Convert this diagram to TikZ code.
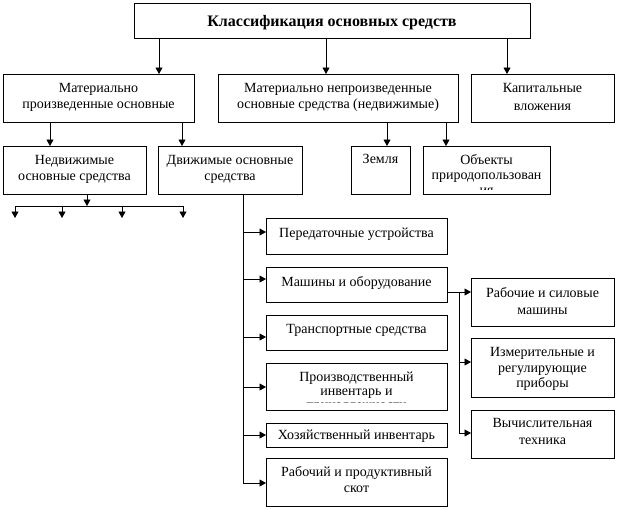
\documentclass[tikz,border=0pt]{standalone}
\usepackage{fontspec}
\setmainfont{Liberation Serif}
\usetikzlibrary{arrows.meta}
\begin{document}
\begin{tikzpicture}[x=1pt,y=-1pt,
  box/.style={draw, line width=0.9pt, inner sep=0pt, outer sep=0pt},
  txt/.style={inner sep=0pt, align=center, anchor=base, font=\fontsize{14}{16}\selectfont},
  arr/.style={line width=0.9pt, -{Triangle[length=6.5pt,width=7pt]}},
  ln/.style={line width=0.9pt}]
\useasboundingbox (0,0) rectangle (618,509);
\newcommand\bx[5]{\node[box,minimum width=#4pt,minimum height=#5pt] (#1) at (#2,#3) {};}
% boxes
\bx{title}{332}{20.5}{396}{35}
\bx{mp}{98.5}{98}{191}{48}
\bx{mnp}{338}{98}{240}{48}
\bx{kap}{542.5}{98}{143}{48}
\bx{ned}{74.5}{170}{143}{48}
\bx{dvi}{230}{170}{144}{48}
\bx{zem}{380.5}{170}{59}{48}
\bx{obj}{486.5}{170}{127}{48}
\bx{per}{356.5}{236}{181}{36}
\bx{mash}{356.5}{284.5}{181}{35}
\bx{trn}{356.5}{332.5}{181}{35}
\bx{prin}{356.5}{386.5}{181}{47}
\bx{hoz}{356.5}{435}{181}{24}
\bx{rab}{356.5}{482}{181}{48}
\bx{rs}{542.5}{302}{143}{48}
\bx{izm}{542.5}{367.5}{143}{59}
\bx{vych}{542.5}{434}{143}{48}
% texts (anchor base = baseline of the last line)
\node[txt, font=\fontsize{16}{18}\selectfont\bfseries] (titleT) at (332,26) {Классификация основных средств};
\node[txt] (mpT) at (98.5,108.5) {Материально\\произведенные основные};
\node[txt] (mnpT) at (338,108.5) {Материально непроизведенные\\основные средства (недвижимые)};
\node[txt, font=\fontsize{14}{18}\selectfont] (kapT) at (542.5,110.5) {Капитальные\\вложения};
\node[txt] (nedT) at (74.5,180.5) {Недвижимые\\основные средства};
\node[txt] (dviT) at (230,180.5) {Движимые основные\\средства};
\node[txt] (zemT) at (380.5,163.5) {Земля};
\begin{scope}
  \clip (423,146) rectangle (550,189);
  \node[txt, font=\fontsize{14}{15}\selectfont] (objT) at (486.5,194.5) {Объекты\\природопользован\\ия};
\end{scope}
\node[txt] (perT) at (356.5,237.5) {Передаточные устройства};
\node[txt] (mashT) at (356.5,286.5) {Машины и оборудование};
\node[txt] (trnT) at (356.5,333.5) {Транспортные средства};
\begin{scope}
  \clip (266,363) rectangle (447,402.5);
  \node[txt, font=\fontsize{14}{14}\selectfont] (prinT) at (356.5,409.5) {Производственный\\инвентарь и\\принадлежности};
\end{scope}
\node[txt] (hozT) at (356.5,439.5) {Хозяйственный инвентарь};
\node[txt] (rabT) at (356.5,492.5) {Рабочий и продуктивный\\скот};
\node[txt, font=\fontsize{14}{17}\selectfont] (rsT) at (542.5,314.5) {Рабочие и силовые\\машины};
\node[txt, font=\fontsize{14}{15.5}\selectfont] (izmT) at (542.5,387.5) {Измерительные и\\регулирующие\\приборы};
\node[txt, font=\fontsize{14}{17}\selectfont] (vychT) at (542.5,444.5) {Вычислительная\\техника};
% helper coordinates
\coordinate (a1) at (159,0);
\coordinate (a2) at (326,0);
\coordinate (a3) at (507,0);
\coordinate (b1) at (50,0);
\coordinate (b2) at (182,0);
\coordinate (c1) at (387,0);
\coordinate (c2) at (446,0);
% connectors
\draw[arr] (title.south -| a1) -- (mp.north -| a1);
\draw[arr] (title.south -| a2) -- (mnp.north -| a2);
\draw[arr] (title.south -| a3) -- (kap.north -| a3);
\draw[arr] (mp.south -| b1) -- (ned.north -| b1);
\draw[arr] (mp.south -| b2) -- (dvi.north -| b2);
\draw[arr] (mnp.south -| c1) -- (zem.north -| c1);
\draw[arr] (mnp.south -| c2) -- (obj.north -| c2);
% fork under Недвижимые
\coordinate (f0) at (87,206);
\coordinate (fa) at (15,206);
\coordinate (fb) at (62,206);
\coordinate (fc) at (122,206);
\coordinate (fd) at (183,206);
\coordinate (fa2) at (15,218);
\coordinate (fb2) at (62,218);
\coordinate (fc2) at (122,218);
\coordinate (fd2) at (183,218);
\draw[arr] (ned.south -| f0) -- (f0);
\draw[ln] (fa) -- (fd);
\draw[arr] (fa) -- (fa2);
\draw[arr] (fb) -- (fb2);
\draw[arr] (fc) -- (fc2);
\draw[arr] (fd) -- (fd2);
% trunk under Движимые
\coordinate (t1) at (243,232);
\coordinate (t2) at (243,279);
\coordinate (t3) at (243,337);
\coordinate (t4) at (243,387);
\coordinate (t5) at (243,435);
\coordinate (t6) at (243,483);
\draw[ln] (dvi.south -| t6) -- (t6);
\draw[arr] (t1) -- (per.west |- t1);
\draw[arr] (t2) -- (mash.west |- t2);
\draw[arr] (t3) -- (trn.west |- t3);
\draw[arr] (t4) -- (prin.west |- t4);
\draw[arr] (t5) -- (hoz.west |- t5);
\draw[arr] (t6) -- (rab.west |- t6);
% branch from Машины
\coordinate (m1) at (459,292);
\coordinate (m2) at (459,362);
\coordinate (m3) at (459,433);
\draw[ln] (mash.east |- m1) -- (m1) -- (m3);
\draw[arr] (m1) -- (rs.west |- m1);
\draw[arr] (m2) -- (izm.west |- m2);
\draw[arr] (m3) -- (vych.west |- m3);
\end{tikzpicture}
\end{document}
